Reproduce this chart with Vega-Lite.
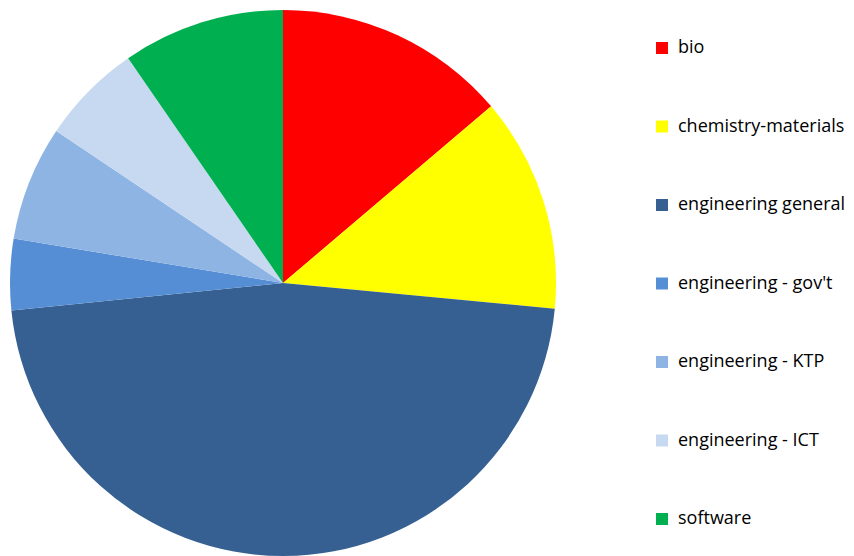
{
  "$schema": "https://vega.github.io/schema/vega-lite/v6.json",
  "width": 566,
  "height": 566,
  "padding": {"left": 0, "top": 0, "right": 288, "bottom": 0},
  "autosize": {"type": "none"},
  "background": "white",
  "data": {
    "values": [
      {"category": "bio", "value": 13.8, "order": 1},
      {"category": "chemistry-materials", "value": 12.7, "order": 2},
      {"category": "engineering general", "value": 46.9, "order": 3},
      {"category": "engineering - gov't", "value": 4.2, "order": 4},
      {"category": "engineering - KTP", "value": 6.8, "order": 5},
      {"category": "engineering - ICT", "value": 6.0, "order": 6},
      {"category": "software", "value": 9.6, "order": 7}
    ]
  },
  "mark": {"type": "arc", "outerRadius": 273, "stroke": null},
  "encoding": {
    "theta": {"field": "value", "type": "quantitative", "stack": true},
    "order": {"field": "order", "type": "quantitative"},
    "color": {
      "field": "category",
      "type": "nominal",
      "sort": ["bio", "chemistry-materials", "engineering general", "engineering - gov't", "engineering - KTP", "engineering - ICT", "software"],
      "scale": {
        "domain": ["bio", "chemistry-materials", "engineering general", "engineering - gov't", "engineering - KTP", "engineering - ICT", "software"],
        "range": ["#FF0000", "#FFFF00", "#376092", "#558ED5", "#8EB4E3", "#C6D9F1", "#00B050"]
      },
      "legend": {
        "title": null,
        "orient": "none",
        "legendX": 653,
        "legendY": 39,
        "symbolType": "square",
        "symbolSize": 144,
        "symbolStrokeWidth": 0,
        "symbolOpacity": 1,
        "labelFont": "Open Sans",
        "labelFontSize": 18,
        "labelColor": "#000000",
        "labelOffset": 7,
        "rowPadding": 60.5,
        "labelLimit": 300
      }
    }
  }
}
